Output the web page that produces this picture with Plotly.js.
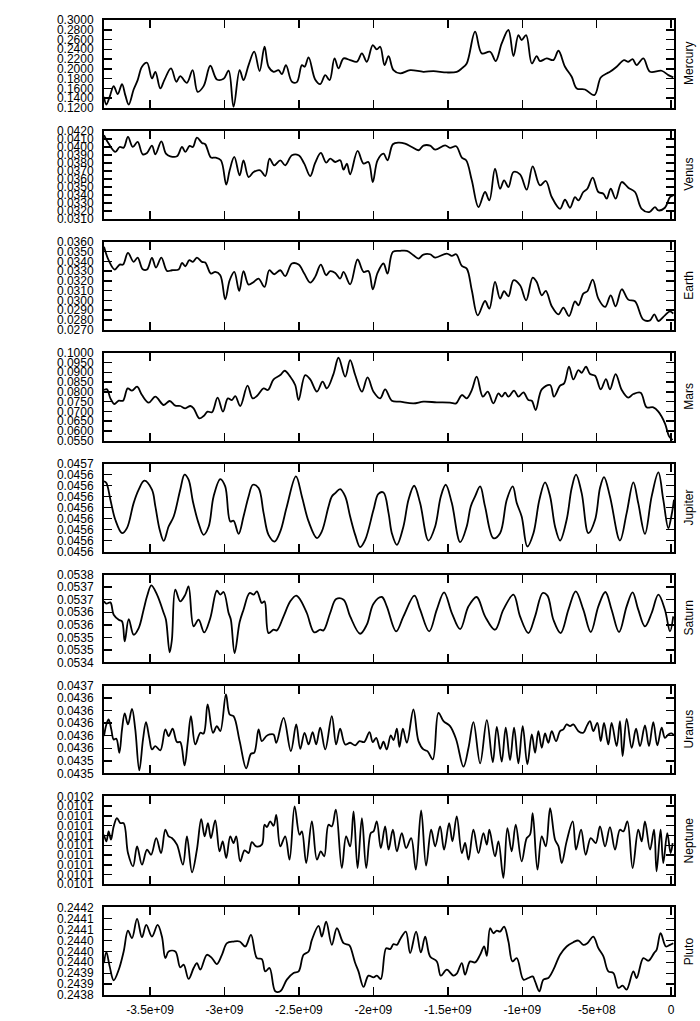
<!DOCTYPE html>
<html>
<head>
<meta charset="utf-8">
<script src="https://cdn.plot.ly/plotly-3.0.1.min.js"></script>
<style>html,body{margin:0;padding:0;background:#fff;}#chart{width:700px;height:1021px;}</style>
</head>
<body>
<div id="chart"></div>
<script>
// time in millions of years (negative = past), value = eccentricity
const planetNames = ['Mercury','Venus','Earth','Mars','Jupiter','Saturn','Uranus','Neptune','Pluto'];

const mercury = [[-3809,.1426],[-3793,.1268],[-3771,.1426],[-3744,.1645],[-3717,.1481],[-3688,.1686],[-3666,.1460],[-3643,.1268],[-3610,.1576],[-3583,.1768],
[-3554,.2042],[-3520,.2124],[-3487,.1802],[-3464,.1939],[-3431,.1597],[-3404,.1768],[-3359,.2008],[-3323,.1734],[-3297,.1850],[-3252,.1713],
[-3214,.1973],[-3180,.1529],[-3140,.1645],[-3095,.2062],[-3051,.1782],[-3006,.1795],[-2972,.1960],[-2939,.1221],[-2898,.1973],[-2872,.1768],
[-2838,.2076],[-2800,.2350],[-2764,.1953],[-2731,.2452],[-2704,.2042],[-2670,.1939],[-2637,.1973],[-2614,.1891],[-2587,.2076],[-2547,.1734],
[-2514,.1727],[-2480,.2076],[-2462,.2042],[-2435,.2233],[-2391,.1782],[-2357,.1686],[-2323,.1871],[-2294,.1768],[-2261,.2213],[-2234,.2008],
[-2200,.2213],[-2156,.2179],[-2111,.2144],[-2077,.2316],[-2044,.2144],[-2004,.2487],[-1977,.2398],[-1954,.2452],[-1925,.2076],[-1898,.2261],
[-1865,.1973],[-1820,.1905],[-1753,.1973],[-1664,.1939],[-1596,.1953],[-1507,.1925],[-1440,.1939],[-1406,.2008],[-1373,.2110],[-1317,.2760],
[-1272,.2316],[-1216,.2350],[-1178,.2158],[-1138,.2521],[-1093,.2795],[-1059,.2261],[-1026,.2692],[-1004,.2589],[-974,.2692],[-936,.2110],
[-903,.2261],[-881,.2158],[-836,.2213],[-791,.2179],[-757,.2370],[-713,.2042],[-668,.1836],[-634,.1597],[-579,.1576],[-516,.1460],
[-473,.1823],[-433,.1905],[-411,.1939],[-366,.2042],[-317,.2179],[-288,.2144],[-259,.2199],[-232,.2076],[-187,.2213],[-142,.1939],
[-64,.1960],[-19,.1871],[14,.1823]];

const venus = [[-3809,.04146],[-3778,.04041],[-3733,.03937],[-3704,.03999],[-3677,.03991],[-3648,.04125],[-3616,.03999],[-3583,.04062],[-3549,.03907],[-3520,.03924],
[-3487,.04016],[-3464,.03907],[-3424,.04070],[-3393,.03916],[-3364,.03882],[-3319,.03882],[-3285,.03999],[-3263,.03937],[-3234,.04012],[-3212,.03999],
[-3185,.04116],[-3151,.04050],[-3129,.04033],[-3091,.03866],[-3062,.03866],[-3024,.03832],[-2988,.03527],[-2965,.03707],[-2934,.03874],[-2898,.03644],
[-2872,.03832],[-2838,.03623],[-2804,.03686],[-2760,.03707],[-2726,.03635],[-2697,.03853],[-2666,.03769],[-2625,.03832],[-2592,.03769],[-2547,.03895],
[-2502,.03895],[-2464,.03790],[-2424,.03635],[-2391,.03799],[-2353,.03924],[-2317,.03803],[-2290,.03853],[-2256,.03811],[-2223,.03832],[-2200,.03715],
[-2178,.03790],[-2156,.03656],[-2106,.03949],[-2066,.03790],[-2033,.03811],[-2004,.03560],[-1972,.03832],[-1932,.03916],[-1905,.03832],[-1869,.04033],
[-1831,.04054],[-1787,.04041],[-1742,.03999],[-1697,.03958],[-1664,.04016],[-1619,.04016],[-1585,.03966],[-1518,.04020],[-1485,.03987],[-1444,.04008],
[-1406,.03866],[-1377,.03832],[-1339,.03581],[-1294,.03246],[-1250,.03435],[-1221,.03330],[-1183,.03727],[-1149,.03476],[-1122,.03581],[-1093,.03497],
[-1059,.03686],[-1015,.03656],[-970,.03464],[-930,.03757],[-881,.03518],[-842,.03573],[-802,.03372],[-746,.03225],[-713,.03338],[-679,.03238],
[-646,.03372],[-623,.03330],[-590,.03435],[-563,.03476],[-527,.03615],[-489,.03435],[-455,.03414],[-433,.03351],[-406,.03476],[-373,.03351],
[-332,.03560],[-288,.03489],[-243,.03435],[-198,.03225],[-147,.03184],[-109,.03246],[-86,.03205],[-42,.03238],[-8,.03372],[14,.03393]];

const earth = [[-3809,.03549],[-3778,.03412],[-3737,.03316],[-3704,.03367],[-3681,.03367],[-3648,.03487],[-3610,.03395],[-3583,.03439],[-3549,.03319],[-3520,.03316],
[-3487,.03436],[-3460,.03336],[-3424,.03439],[-3386,.03302],[-3353,.03309],[-3308,.03316],[-3285,.03384],[-3263,.03350],[-3236,.03412],[-3212,.03395],
[-3185,.03439],[-3151,.03395],[-3129,.03388],[-3091,.03275],[-3062,.03292],[-3028,.03258],[-2995,.03011],[-2965,.03206],[-2934,.03292],[-2901,.03097],
[-2872,.03299],[-2838,.03162],[-2804,.03189],[-2771,.03224],[-2731,.03138],[-2699,.03309],[-2666,.03268],[-2625,.03309],[-2592,.03248],[-2547,.03378],
[-2502,.03367],[-2464,.03275],[-2424,.03183],[-2391,.03241],[-2353,.03367],[-2317,.03258],[-2290,.03299],[-2256,.03282],[-2223,.03224],[-2200,.03292],
[-2156,.03165],[-2106,.03419],[-2066,.03292],[-2033,.03302],[-2004,.03114],[-1972,.03282],[-1932,.03378],[-1905,.03275],[-1869,.03497],[-1820,.03508],
[-1775,.03508],[-1731,.03463],[-1697,.03429],[-1664,.03470],[-1619,.03473],[-1585,.03439],[-1507,.03480],[-1473,.03456],[-1444,.03473],[-1406,.03354],
[-1373,.03326],[-1339,.03104],[-1299,.02847],[-1250,.02994],[-1221,.02916],[-1183,.03189],[-1149,.03018],[-1122,.03094],[-1093,.03042],[-1059,.03206],
[-1015,.03155],[-974,.03001],[-930,.03234],[-903,.03189],[-869,.03052],[-842,.03097],[-802,.02940],[-757,.02857],[-724,.02926],[-686,.02840],
[-646,.02991],[-623,.02950],[-590,.03070],[-563,.03094],[-527,.03213],[-489,.03018],[-444,.02933],[-406,.03052],[-373,.02940],[-332,.03114],
[-288,.03008],[-243,.02991],[-187,.02803],[-142,.02796],[-113,.02857],[-86,.02789],[-42,.02847],[-8,.02888],[14,.02864]];

const mars = [[-3809,.08091],[-3789,.08125],[-3766,.07665],[-3740,.07375],[-3710,.07545],[-3681,.07545],[-3650,.08176],[-3621,.08057],[-3587,.08261],[-3554,.07835],
[-3509,.07443],[-3464,.07750],[-3408,.07324],[-3368,.07528],[-3330,.07290],[-3297,.07273],[-3263,.07153],[-3229,.07273],[-3207,.07153],[-3169,.06642],
[-3140,.06761],[-3113,.06983],[-3084,.06949],[-3046,.07699],[-3010,.06983],[-2977,.07665],[-2950,.07580],[-2927,.07784],[-2894,.07273],[-2845,.08312],
[-2811,.07665],[-2782,.07784],[-2737,.08176],[-2708,.08091],[-2670,.08636],[-2625,.08858],[-2596,.09079],[-2558,.08773],[-2525,.08347],[-2502,.07580],
[-2458,.08858],[-2424,.08636],[-2379,.08006],[-2341,.08517],[-2312,.08176],[-2268,.08909],[-2234,.09744],[-2189,.08773],[-2156,.09625],[-2122,.08858],
[-2077,.08006],[-2039,.08739],[-1999,.08006],[-1954,.07665],[-1921,.08125],[-1876,.07545],[-1820,.07494],[-1731,.07409],[-1664,.07494],[-1574,.07460],
[-1485,.07443],[-1444,.07409],[-1406,.07835],[-1373,.07665],[-1339,.08091],[-1306,.08773],[-1265,.07750],[-1232,.08006],[-1194,.07409],[-1160,.07920],
[-1138,.07750],[-1115,.07954],[-1093,.07750],[-1055,.08057],[-1026,.07750],[-992,.07972],[-959,.07580],[-936,.07545],[-910,.07068],[-869,.08125],
[-813,.08347],[-787,.07750],[-746,.08312],[-719,.08432],[-686,.09284],[-657,.08636],[-623,.09114],[-601,.08977],[-572,.09284],[-545,.08909],
[-511,.08824],[-473,.08125],[-438,.08653],[-411,.08125],[-373,.08909],[-332,.08091],[-288,.07699],[-254,.07886],[-205,.07954],[-165,.07205],
[-120,.07205],[-86,.06983],[-42,.06386],[-13,.05705],[10,.05530]];

const jupiter = [[-3809,.0456339],[-3793,.0456324],[-3766,.0456172],[-3733,.0455989],[-3688,.0455867],[-3655,.0455913],[-3610,.0456141],[-3576,.0456263],[-3538,.0456345],[-3487,.0456263],
[-3464,.0456111],[-3435,.0455898],[-3408,.0455797],[-3375,.0455928],[-3341,.0456019],[-3297,.0456263],[-3268,.0456400],[-3241,.0456354],[-3212,.0456156],[-3174,.0455959],
[-3140,.0455852],[-3106,.0455928],[-3073,.0456202],[-3028,.0456360],[-2995,.0456293],[-2961,.0455974],[-2939,.0455980],[-2905,.0455861],[-2872,.0456019],[-2838,.0456202],
[-2809,.0456308],[-2771,.0456278],[-2737,.0456050],[-2704,.0455852],[-2663,.0455791],[-2625,.0455883],[-2581,.0456111],[-2520,.0456385],[-2480,.0456202],[-2435,.0455974],
[-2379,.0455822],[-2346,.0455883],[-2301,.0456111],[-2279,.0456202],[-2256,.0456232],[-2223,.0456269],[-2189,.0456202],[-2156,.0456019],[-2122,.0455852],[-2089,.0455740],
[-2055,.0455806],[-1999,.0456080],[-1966,.0456226],[-1932,.0456238],[-1898,.0456050],[-1876,.0455867],[-1842,.0455761],[-1798,.0455928],[-1764,.0456172],[-1726,.0456299],
[-1686,.0456141],[-1630,.0455800],[-1585,.0455928],[-1547,.0456202],[-1514,.0456308],[-1473,.0456141],[-1417,.0455785],[-1373,.0455928],[-1346,.0456111],[-1317,.0456202],
[-1283,.0456293],[-1250,.0456111],[-1194,.0455822],[-1149,.0455867],[-1104,.0456172],[-1064,.0456293],[-1037,.0456141],[-1004,.0456019],[-966,.0455746],[-925,.0455867],
[-885,.0456172],[-847,.0456330],[-813,.0456202],[-780,.0455928],[-746,.0455800],[-702,.0455989],[-668,.0456278],[-639,.0456400],[-601,.0456232],[-556,.0455867],
[-511,.0455989],[-478,.0456278],[-451,.0456378],[-411,.0456202],[-344,.0455800],[-299,.0456050],[-254,.0456330],[-221,.0456141],[-176,.0455861],[-131,.0456202],
[-86,.0456421],[-53,.0456172],[-19,.0455913],[3,.0456035],[19,.0456172]];

const saturn = [[-3809,.0536435],[-3793,.0536342],[-3766,.0536395],[-3744,.0535903],[-3710,.0535703],[-3688,.0535637],[-3670,.0534838],[-3643,.0535730],[-3610,.0535105],[-3576,.0535371],
[-3543,.0536103],[-3520,.0536635],[-3491,.0537074],[-3453,.0536701],[-3408,.0535970],[-3393,.0535703],[-3368,.0534399],[-3353,.0534905],[-3330,.0536901],[-3297,.0536435],
[-3263,.0536701],[-3241,.0537034],[-3207,.0535437],[-3174,.0535703],[-3136,.0535198],[-3095,.0535770],[-3051,.0536861],[-3028,.0536701],[-3006,.0536808],[-2972,.0535970],
[-2957,.0535703],[-2932,.0534373],[-2898,.0535610],[-2872,.0536103],[-2831,.0536768],[-2804,.0536701],[-2782,.0536835],[-2749,.0536369],[-2731,.0536435],[-2704,.0535171],
[-2670,.0535304],[-2648,.0535278],[-2603,.0535837],[-2558,.0536435],[-2518,.0536662],[-2491,.0536502],[-2447,.0535970],[-2397,.0535198],[-2357,.0535304],[-2335,.0535278],
[-2290,.0535970],[-2250,.0536529],[-2200,.0536502],[-2156,.0535837],[-2089,.0535144],[-2044,.0535504],[-1999,.0536342],[-1943,.0536608],[-1910,.0536236],[-1847,.0535238],
[-1798,.0535837],[-1724,.0536662],[-1686,.0536103],[-1625,.0535238],[-1574,.0536103],[-1525,.0536795],[-1473,.0535970],[-1417,.0535331],[-1361,.0536236],[-1306,.0536608],
[-1250,.0535837],[-1183,.0535304],[-1127,.0536103],[-1059,.0536701],[-1015,.0535837],[-959,.0535171],[-914,.0535837],[-863,.0536768],[-831,.0536662],[-791,.0535703],
[-742,.0535171],[-690,.0536103],[-641,.0536835],[-590,.0536103],[-540,.0535211],[-489,.0536236],[-442,.0536808],[-400,.0536103],[-350,.0535211],[-299,.0536236],
[-259,.0536795],[-221,.0536103],[-176,.0535437],[-131,.0535970],[-86,.0536701],[-42,.0536103],[-8,.0535238],[14,.0535837]];

const uranus = [[-3809,.0435794],[-3793,.0435980],[-3778,.0436059],[-3760,.0435900],[-3744,.0435741],[-3726,.0435752],[-3706,.0435529],[-3688,.0435900],[-3670,.0436155],[-3648,.0435980],
[-3621,.0436229],[-3599,.0435900],[-3572,.0435248],[-3547,.0435741],[-3527,.0436017],[-3505,.0435767],[-3487,.0435582],[-3464,.0435635],[-3431,.0435566],[-3397,.0435900],
[-3375,.0435794],[-3348,.0435911],[-3319,.0435699],[-3297,.0435699],[-3268,.0435327],[-3247,.0435688],[-3225,.0436112],[-3196,.0435661],[-3162,.0435847],[-3140,.0435836],
[-3113,.0436298],[-3077,.0435847],[-3051,.0435953],[-3028,.0435873],[-2990,.0436457],[-2965,.0436139],[-2939,.0436112],[-2898,.0435714],[-2854,.0435280],[-2822,.0435513],
[-2800,.0435529],[-2771,.0435900],[-2749,.0435714],[-2719,.0435794],[-2697,.0435821],[-2670,.0435821],[-2652,.0435688],[-2603,.0436086],[-2554,.0435555],[-2518,.0435980],
[-2491,.0435592],[-2462,.0435847],[-2435,.0435661],[-2408,.0435858],[-2384,.0435661],[-2357,.0435927],[-2323,.0435582],[-2279,.0436112],[-2250,.0435661],[-2223,.0435911],
[-2189,.0435661],[-2156,.0435688],[-2122,.0435646],[-2093,.0435714],[-2062,.0435699],[-2026,.0435858],[-2004,.0435699],[-1981,.0435767],[-1954,.0435592],[-1932,.0435704],
[-1910,.0435582],[-1883,.0435805],[-1865,.0435730],[-1842,.0435911],[-1825,.0435624],[-1802,.0435911],[-1775,.0435688],[-1731,.0436218],[-1697,.0435714],[-1664,.0435582],
[-1637,.0435555],[-1601,.0435423],[-1563,.0436165],[-1529,.0436033],[-1485,.0435953],[-1444,.0435741],[-1395,.0435306],[-1361,.0435608],[-1328,.0436017],[-1283,.0435359],
[-1238,.0436049],[-1198,.0435380],[-1171,.0435942],[-1138,.0435386],[-1111,.0435927],[-1082,.0435412],[-1055,.0435927],[-1026,.0435359],[-997,.0435953],[-966,.0435343],
[-936,.0435821],[-914,.0435529],[-892,.0435873],[-869,.0435608],[-847,.0435836],[-825,.0435688],[-802,.0435873],[-773,.0435714],[-746,.0435873],[-724,.0435900],
[-702,.0435980],[-679,.0435953],[-657,.0435980],[-623,.0435873],[-590,.0435847],[-567,.0435953],[-545,.0436033],[-523,.0435873],[-496,.0436006],[-473,.0435714],
[-451,.0436006],[-422,.0435661],[-400,.0436006],[-366,.0435635],[-344,.0436033],[-326,.0435476],[-299,.0436070],[-265,.0435608],[-236,.0435911],[-209,.0435635],
[-176,.0435964],[-149,.0435635],[-120,.0436017],[-93,.0435646],[-64,.0435927],[-42,.0435767],[-19,.0435821],[3,.0435836],[19,.0435805]];

const neptune = [[-3809,.0101108],[-3793,.0101040],[-3778,.0101142],[-3762,.0101057],[-3744,.0101193],[-3722,.0101278],[-3699,.0101227],[-3677,.0101227],[-3648,.0100920],[-3614,.0100784],
[-3587,.0100989],[-3554,.0100801],[-3520,.0100955],[-3493,.0100903],[-3458,.0101074],[-3426,.0100920],[-3397,.0101159],[-3375,.0101091],[-3353,.0101074],[-3319,.0101006],
[-3279,.0100801],[-3252,.0101091],[-3218,.0100723],[-3185,.0100955],[-3156,.0101268],[-3133,.0101091],[-3111,.0101227],[-3091,.0101074],[-3062,.0101255],[-3033,.0100938],
[-3012,.0101040],[-2988,.0100869],[-2961,.0101091],[-2939,.0101023],[-2921,.0101091],[-2894,.0100835],[-2865,.0100948],[-2838,.0100920],[-2816,.0101033],[-2787,.0100989],
[-2749,.0101006],[-2731,.0101210],[-2715,.0101186],[-2693,.0101244],[-2670,.0101200],[-2652,.0101312],[-2625,.0100989],[-2592,.0101091],[-2563,.0100852],[-2529,.0101398],
[-2496,.0101108],[-2480,.0101142],[-2451,.0100818],[-2413,.0101244],[-2379,.0100852],[-2353,.0100938],[-2330,.0100886],[-2301,.0101210],[-2279,.0101193],[-2252,.0101364],
[-2212,.0100767],[-2183,.0101091],[-2156,.0100989],[-2133,.0101347],[-2106,.0100767],[-2077,.0101278],[-2048,.0100767],[-2017,.0101125],[-1999,.0101142],[-1977,.0101244],
[-1950,.0100972],[-1921,.0101193],[-1898,.0100955],[-1869,.0101159],[-1842,.0100938],[-1809,.0101125],[-1780,.0100972],[-1746,.0101074],[-1715,.0100750],[-1679,.0101357],
[-1646,.0100791],[-1612,.0101159],[-1585,.0100989],[-1552,.0101193],[-1525,.0100955],[-1491,.0101227],[-1469,.0101040],[-1440,.0101295],[-1406,.0100920],[-1384,.0101023],
[-1361,.0100852],[-1328,.0101159],[-1294,.0100920],[-1261,.0101125],[-1238,.0101006],[-1221,.0101159],[-1183,.0100886],[-1160,.0101040],[-1127,.0100665],[-1100,.0101176],
[-1071,.0100938],[-1044,.0101210],[-1004,.0100835],[-970,.0101074],[-948,.0101108],[-930,.0101330],[-898,.0100750],[-869,.0101091],[-842,.0100989],[-813,.0101381],
[-780,.0101057],[-757,.0100989],[-735,.0100818],[-702,.0101040],[-661,.0101244],[-639,.0100955],[-605,.0101159],[-574,.0100903],[-540,.0101074],[-507,.0101023],
[-478,.0101193],[-444,.0100989],[-411,.0101186],[-377,.0100955],[-344,.0101159],[-321,.0101142],[-294,.0101244],[-259,.0100767],[-221,.0101159],[-198,.0101040],
[-176,.0101244],[-142,.0100955],[-115,.0101159],[-98,.0100733],[-71,.0101159],[-53,.0100818],[-26,.0101125],[-4,.0100920],[10,.0101023]];

const pluto = [[-3809,.2439464],[-3793,.2439962],[-3771,.2439313],[-3744,.2438679],[-3710,.2439162],[-3677,.2439992],[-3648,.2440943],[-3621,.2440596],[-3587,.2441472],[-3554,.2440641],
[-3525,.2441200],[-3487,.2440672],[-3449,.2441200],[-3420,.2440672],[-3397,.2439691],[-3375,.2439992],[-3330,.2439992],[-3297,.2439268],[-3274,.2439389],[-3241,.2438740],
[-3207,.2439238],[-3185,.2439464],[-3162,.2439162],[-3118,.2439841],[-3084,.2439691],[-3051,.2439419],[-3017,.2439841],[-2983,.2440370],[-2939,.2440445],[-2898,.2440445],
[-2860,.2440219],[-2822,.2440747],[-2782,.2439691],[-2749,.2439645],[-2726,.2439087],[-2697,.2439238],[-2659,.2438181],[-2625,.2438181],[-2581,.2438709],[-2536,.2439011],
[-2502,.2439087],[-2469,.2439841],[-2435,.2439992],[-2413,.2440521],[-2368,.2441155],[-2346,.2440672],[-2317,.2441351],[-2279,.2440294],[-2245,.2441049],[-2200,.2440370],
[-2167,.2440294],[-2156,.2440219],[-2122,.2439464],[-2100,.2439087],[-2066,.2438377],[-2033,.2438891],[-1999,.2438815],[-1977,.2438891],[-1950,.2438740],[-1914,.2440143],
[-1887,.2440098],[-1865,.2440324],[-1842,.2440294],[-1820,.2440551],[-1782,.2440898],[-1753,.2439917],[-1713,.2440898],[-1681,.2439947],[-1652,.2440672],[-1619,.2439766],
[-1574,.2439540],[-1547,.2438891],[-1507,.2439162],[-1462,.2438891],[-1440,.2438981],[-1406,.2439464],[-1384,.2438936],[-1350,.2439540],[-1317,.2439494],[-1283,.2439841],
[-1256,.2440219],[-1238,.2439796],[-1216,.2441049],[-1194,.2440823],[-1171,.2440943],[-1149,.2440898],[-1122,.2441124],[-1093,.2440445],[-1066,.2439540],[-1037,.2439691],
[-992,.2438709],[-959,.2438785],[-930,.2438860],[-914,.2438634],[-885,.2438181],[-858,.2438709],[-825,.2438785],[-791,.2439162],[-746,.2439841],[-702,.2440219],
[-657,.2440415],[-623,.2440491],[-590,.2440294],[-563,.2440370],[-523,.2440672],[-489,.2440143],[-455,.2439766],[-422,.2439087],[-388,.2439011],[-355,.2438332],
[-326,.2438438],[-299,.2438257],[-254,.2439087],[-232,.2438785],[-187,.2439691],[-153,.2439570],[-115,.2439917],[-98,.2440068],[-71,.2440823],[-35,.2440219],
[-8,.2440294],[14,.2440370]];

const seriesList = [mercury, venus, earth, mars, jupiter, saturn, uranus, neptune, pluto];

// y tick values and labels as printed
const yTickVals = [
  [0.12,0.14,0.16,0.18,0.20,0.22,0.24,0.26,0.28,0.30],
  [0.031,0.032,0.033,0.034,0.035,0.036,0.037,0.038,0.039,0.040,0.041,0.042],
  [0.027,0.028,0.029,0.030,0.031,0.032,0.033,0.034,0.035,0.036],
  [0.055,0.060,0.065,0.070,0.075,0.080,0.085,0.090,0.095,0.100],
  [0.04557,0.04558,0.04559,0.04560,0.04561,0.04562,0.04563,0.04564,0.04565],
  [0.05340,0.05345,0.05350,0.05355,0.05360,0.05365,0.05370,0.05375],
  [0.04352,0.04354,0.04356,0.04358,0.04360,0.04362,0.04364,0.04366],
  [0.01006,0.01007,0.01008,0.01009,0.01010,0.01011,0.01012,0.01013,0.01014,0.01015],
  [0.24380,0.24385,0.24390,0.24395,0.24400,0.24405,0.24410,0.24415,0.24420]
];
const yTickText = [
  ['0.1200','0.1400','0.1600','0.1800','0.2000','0.2200','0.2400','0.2600','0.2800','0.3000'],
  ['0.0310','0.0320','0.0330','0.0340','0.0350','0.0360','0.0370','0.0380','0.0390','0.0400','0.0410','0.0420'],
  ['0.0270','0.0280','0.0290','0.0300','0.0310','0.0320','0.0330','0.0340','0.0350','0.0360'],
  ['0.0550','0.0600','0.0650','0.0700','0.0750','0.0800','0.0850','0.0900','0.0950','0.1000'],
  ['0.0456','0.0456','0.0456','0.0456','0.0456','0.0456','0.0456','0.0456','0.0457'],
  ['0.0534','0.0535','0.0535','0.0536','0.0536','0.0537','0.0537','0.0538'],
  ['0.0435','0.0435','0.0436','0.0436','0.0436','0.0436','0.0436','0.0437'],
  ['0.0101','0.0101','0.0101','0.0101','0.0101','0.0101','0.0101','0.0101','0.0101','0.0102'],
  ['0.2438','0.2439','0.2439','0.2440','0.2440','0.2440','0.2441','0.2441','0.2442']
];
const xTickVals = [-3.5e9,-3e9,-2.5e9,-2e9,-1.5e9,-1e9,-5e8,0];
const xTickText = ['-3.5e+09','-3e+09','-2.5e+09','-2e+09','-1.5e+09','-1e+09','-5e+08','0'];

const FONT = 'Liberation Sans, Arial, Helvetica, sans-serif';
const traces = [];
const layout = {
  width: 700, height: 1021,
  margin: {l: 104, r: 26, t: 20, b: 25},
  paper_bgcolor: '#fff', plot_bgcolor: '#fff',
  showlegend: false,
  font: {family: FONT, color: '#000', size: 12},
  annotations: []
};
const n = seriesList.length;
const pitch = 0.11365, panelH = 0.0900;
for (let i = 0; i < n; i++) {
  const k = i + 1;
  const xa = 'xaxis' + (k === 1 ? '' : k), ya = 'yaxis' + (k === 1 ? '' : k);
  const xr = 'x' + (k === 1 ? '' : k), yr = 'y' + (k === 1 ? '' : k);
  const top = 1 - i * pitch, bot = top - panelH;
  const d = seriesList[i];
  traces.push({
    x: d.map(p => p[0] * 1e6), y: d.map(p => p[1]),
    xaxis: xr, yaxis: yr, type: 'scatter', mode: 'lines',
    line: {color: '#000', width: 1.8, shape: 'spline', smoothing: 1},
    hoverinfo: 'skip'
  });
  const tv = yTickVals[i];
  layout[xa] = {
    domain: [0, 1], anchor: yr, range: [-3.809e9, 0.019e9],
    tickvals: xTickVals, ticktext: xTickText, showticklabels: i === n - 1,
    ticks: 'inside', ticklen: 8, tickwidth: 1.5, tickcolor: '#000',
    showline: true, linewidth: 2, linecolor: '#000', mirror: 'ticks',
    showgrid: false, zeroline: false, ticklabelstandoff: 2,
    tickfont: {family: FONT, size: 12, color: '#000'}
  };
  layout[ya] = {
    domain: [bot, top], anchor: xr, range: [tv[0], tv[tv.length - 1]],
    tickvals: tv, ticktext: yTickText[i],
    ticks: 'inside', ticklen: 8, tickwidth: 1.5, tickcolor: '#000',
    showline: true, linewidth: 2, linecolor: '#000', mirror: 'ticks',
    showgrid: false, zeroline: false, ticklabelstandoff: 6,
    tickfont: {family: FONT, size: 12, color: '#000'}
  };
  layout.annotations.push({
    text: planetNames[i], xref: 'paper', yref: 'paper', x: 1, y: (top + bot) / 2,
    xanchor: 'center', yanchor: 'middle', xshift: 15, textangle: -90, showarrow: false,
    font: {family: FONT, size: 12, color: '#000'}
  });
}
Plotly.newPlot('chart', traces, layout, {displayModeBar: false, staticPlot: true});
</script>
</body>
</html>
